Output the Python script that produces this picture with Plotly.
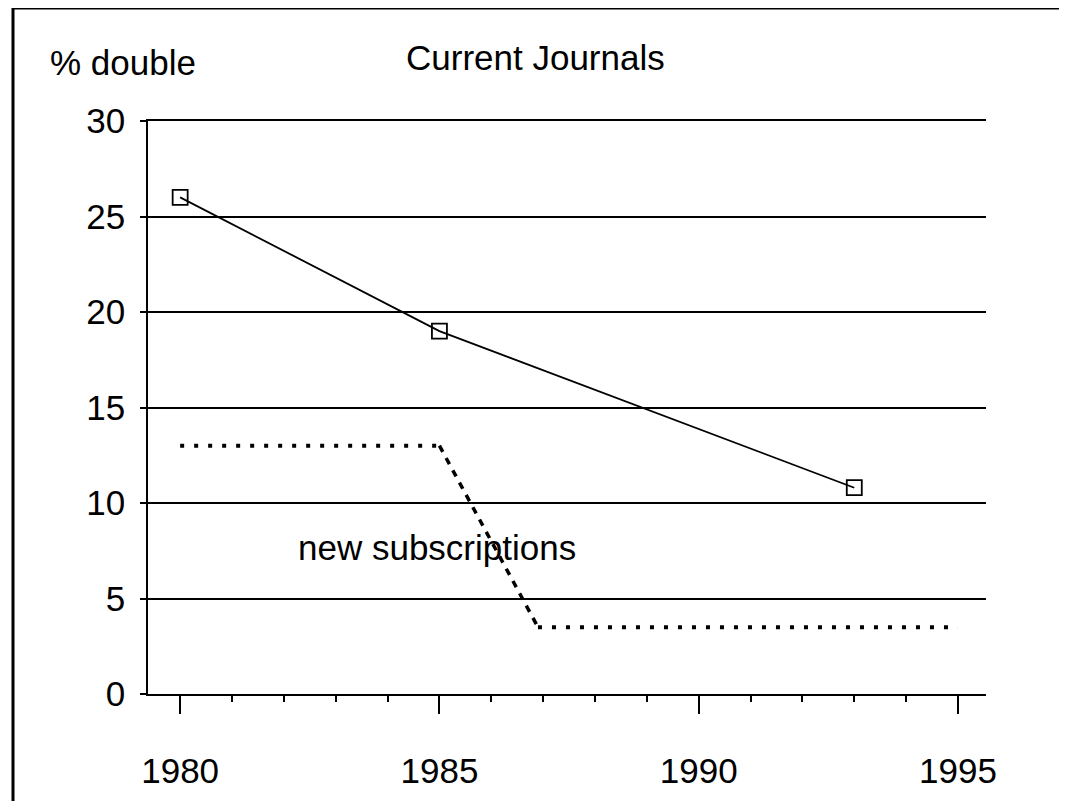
import plotly.graph_objects as go

# Data
years_current = [1980, 1985, 1993]
pct_current = [26, 19, 10.8]

years_new = [1980, 1985, 1986.9, 1995]
pct_new = [13, 13, 3.5, 3.5]

x_ticks = [1980, 1985, 1990, 1995]
y_ticks = [0, 5, 10, 15, 20, 25, 30]

title_text = "Current Journals"
y_label = "% double"
series_label = "new subscriptions"

FONT = "Liberation Sans, Arial, sans-serif"

# page body has an 8px default margin
OFF = 8
L, T, PW, PH = 148 - OFF, 121 - OFF, 838, 573
W, H = 1067 - OFF, 801 - OFF


def px(xpix):
    return (xpix - OFF - L) / PW


def py(ypix):
    return (T + PH - (ypix - OFF)) / PH


fig = go.Figure()

# new subscriptions: dotted flat parts, dashed drop
fig.add_trace(go.Scatter(x=years_new[0:2], y=pct_new[0:2], mode="lines",
                         line=dict(color="black", width=4, dash="4px,10px"),
                         showlegend=False, hoverinfo="skip"))
fig.add_trace(go.Scatter(x=years_new[1:3], y=pct_new[1:3], mode="lines",
                         line=dict(color="black", width=3.5, dash="7px,7px"),
                         showlegend=False, hoverinfo="skip"))
fig.add_trace(go.Scatter(x=years_new[2:4], y=pct_new[2:4], mode="lines",
                         line=dict(color="black", width=4, dash="4px,10px"),
                         showlegend=False, hoverinfo="skip"))

# current journals
fig.add_trace(go.Scatter(x=years_current, y=pct_current, mode="lines+markers",
                         line=dict(color="black", width=1.8),
                         marker=dict(symbol="square-open", size=15,
                                     color="black", line=dict(width=1.8)),
                         showlegend=False))

fig.update_layout(
    width=W, height=H,
    margin=dict(l=L, r=W - L - PW, t=T, b=H - T - PH, autoexpand=False),
    paper_bgcolor="white", plot_bgcolor="white",
    font=dict(family=FONT, color="black", size=35),
    xaxis=dict(range=[1979.38, 1995.54], tickvals=x_ticks,
               ticktext=[str(v) for v in x_ticks],
               ticks="outside", ticklen=18, tickwidth=1.5, tickcolor="black",
               ticklabelstandoff=27, automargin=False,
               minor=dict(dtick=1, tick0=1980, ticks="outside", ticklen=6,
                          tickwidth=1.5, tickcolor="black", showgrid=False),
               showline=True, linecolor="black", linewidth=2, mirror=True,
               showgrid=False, zeroline=False,
               tickfont=dict(size=35, family=FONT)),
    yaxis=dict(range=[0, 30], tickvals=y_ticks,
               ticks="outside", ticklen=6, tickwidth=1.5, tickcolor="black",
               ticklabelstandoff=8, automargin=False,
               showline=True, linecolor="black", linewidth=1.5,
               showgrid=True, gridcolor="black", gridwidth=2,
               zeroline=False, tickfont=dict(size=35, family=FONT)),
)

# Border (top and left)
fig.add_shape(type="line", xref="paper", yref="paper",
              x0=px(13), x1=1.3, y0=py(8), y1=py(8),
              line=dict(color="black", width=3))
fig.add_shape(type="line", xref="paper", yref="paper",
              x0=px(13), x1=px(13), y0=py(8), y1=-0.3,
              line=dict(color="black", width=3))

fig.add_annotation(text=y_label, xref="paper", yref="paper",
                   x=px(48), y=py(62),
                   xanchor="left", yanchor="middle", showarrow=False,
                   font=dict(size=35, family=FONT))
fig.add_annotation(text=title_text, xref="paper", yref="paper",
                   x=px(535), y=py(58),
                   xanchor="center", yanchor="middle", showarrow=False,
                   font=dict(size=35, family=FONT))
fig.add_annotation(text=series_label, xref="paper", yref="paper",
                   x=px(296), y=py(547),
                   xanchor="left", yanchor="middle", showarrow=False,
                   font=dict(size=35, family=FONT))

fig.write_html("out.html")
